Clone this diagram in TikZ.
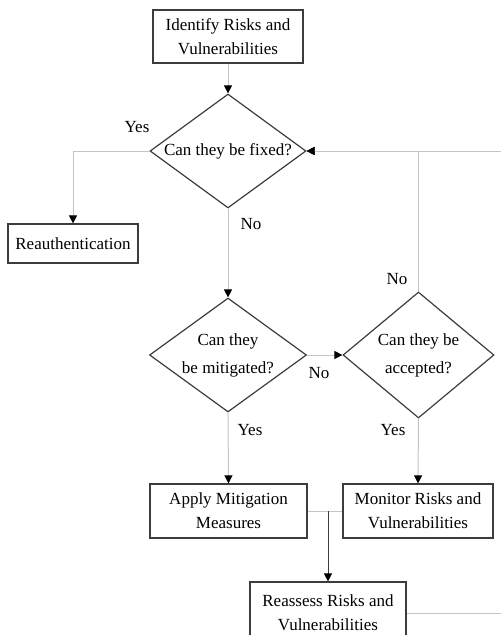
\documentclass[tikz,border=0pt]{standalone}
\usepackage{fontspec}
\setmainfont{Liberation Serif}
\usepackage{tikz}
\usetikzlibrary{positioning, shapes.geometric, arrows.meta}

\definecolor{linegrey}{HTML}{C4C4C4}
\definecolor{boxgrey}{HTML}{3C3C3C}

\begin{document}
\begin{tikzpicture}[x=1pt, y=-1pt,
  font=\fontsize{17}{24}\selectfont,
  stepbox/.style={draw=boxgrey, line width=1.2pt, rectangle, align=center, inner sep=0pt},
  question/.style={draw=boxgrey, line width=1.2pt, diamond, shape aspect=1.37,
    inner xsep=-10pt, inner ysep=-8pt, align=center, font=\fontsize{17}{28}\selectfont},
  flow/.style={draw=linegrey, line width=1pt, -{Triangle[color=black, width=8pt, length=8pt]}},
  plain/.style={draw=linegrey, line width=1pt}]

% fix size of the page, the picture is cut at right and bottom
\useasboundingbox (0,0) rectangle (501,635);
\clip (0,0) rectangle (501,635);

% boxes and questions
\node[stepbox, minimum width=150pt, minimum height=53pt] (identify) at (228,36.5) {Identify Risks and\\Vulnerabilities};
\node[question, minimum width=156pt, minimum height=114pt] (fixed) at (228,151) {Can they be fixed?};
\node[stepbox, minimum width=130pt, minimum height=39pt] (reauth) at (73,243.5) {Reauthentication};
\node[question, minimum width=157pt, minimum height=114pt] (mitig) at (228,355) {Can they\\be mitigated?};
\node[question, minimum width=151pt, minimum height=126pt] (accept) at (418.5,355) {Can they be\\accepted?};
\node[stepbox, minimum width=157pt, minimum height=54pt] (apply) at (228.5,511) {Apply Mitigation\\Measures};
\node[stepbox, minimum width=150pt, minimum height=54pt] (monitor) at (418,511) {Monitor Risks and\\Vulnerabilities};
\node[stepbox, minimum width=156pt, minimum height=62pt] (reassess) at (328,613) {Reassess Risks and\\Vulnerabilities};

% helper points
\coordinate (join) at (328,511);
\coordinate (loopx) at (515,0);

% connectors
\draw[flow] (identify.south) -- (fixed.north);
\draw[flow] (fixed.west) -| (reauth.north);
\draw[flow] (fixed.south) -- (mitig.north);
\draw[flow] (mitig.east) -- (accept.west);
\draw[flow] (accept.north) |- (fixed.east);
\draw[flow] (mitig.south) -- (apply.north);
\draw[flow] (accept.south) -- (monitor.north);
\draw[plain] (apply.east) -- (monitor.west);
\draw[boxgrey, line width=1pt, -{Triangle[color=black, width=8pt, length=8pt]}] (join) -- (reassess.north);
\draw[flow] (reassess.east) -- (reassess.east -| loopx) -- (fixed.east -| loopx) -- (fixed.east);

% answers
\node (yes1) at (137,127) {Yes};
\node (no1) at (251,224) {No};
\node (no2) at (397,279) {No};
\node (no3) at (319,373) {No};
\node (yes2) at (250,430) {Yes};
\node (yes3) at (393,430) {Yes};

\end{tikzpicture}
\end{document}
